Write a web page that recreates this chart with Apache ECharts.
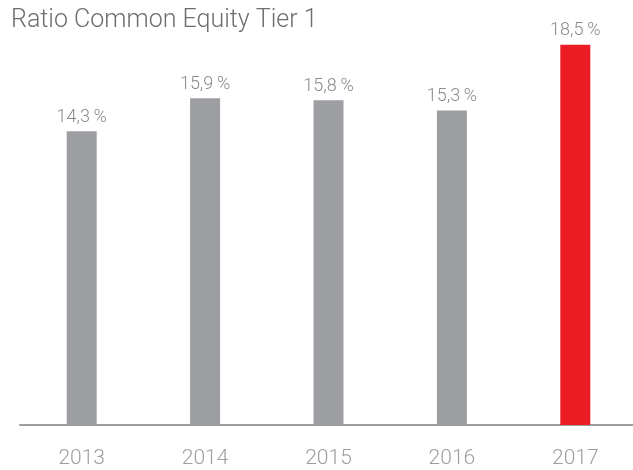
<!DOCTYPE html>
<html>
<head>
<meta charset="utf-8">
<script src="https://cdn.jsdelivr.net/npm/echarts@6/dist/echarts.min.js"></script>
<style>
  html, body { margin: 0; padding: 0; background: #fff; overflow: hidden; }
  #chart { width: 637px; height: 470px; }
</style>
</head>
<body>
<div id="chart"></div>
<script>
const years = ['2013', '2014', '2015', '2016', '2017']
const ratios = [14.3, 15.9, 15.8, 15.3, 18.5]
const highlightYear = '2017'

const chart = echarts.init(document.getElementById('chart'))

chart.setOption({
  backgroundColor: '#fff',
  animation: false,
  textStyle: { fontFamily: 'Roboto', fontWeight: 300 },
  title: {
    text: 'Ratio Common Equity Tier 1',
    left: 6,
    top: 3,
    textStyle: { color: '#6d6e71', fontSize: 25, fontWeight: 300, fontFamily: 'Roboto' },
  },
  // chart is a bit wider than the window so the category bands line up
  grid: { left: 20, right: 0, top: 14, bottom: 45 },
  xAxis: {
    type: 'category',
    data: years,
    axisLine: { lineStyle: { color: '#9d9ea2', width: 2 } },
    axisTick: { show: false },
    axisLabel: { color: '#9d9ea2', fontSize: 21, fontWeight: 300, margin: 23 },
  },
  yAxis: {
    type: 'value',
    min: 0,
    max: 20,
    show: false,
    splitLine: { show: false },
  },
  series: [
    {
      type: 'bar',
      barWidth: 30,
      data: ratios.map((value, i) => ({
        value,
        itemStyle: { color: years[i] === highlightYear ? '#ec1c24' : '#9d9ea2' },
      })),
      label: {
        show: true,
        position: 'top',
        distance: 5,
        color: '#8a8b8e',
        fontSize: 18,
        fontWeight: 300,
        formatter: (p) => p.value.toFixed(1).replace('.', ',') + '\u2009%',
      },
    },
  ],
})
</script>
</body>
</html>
